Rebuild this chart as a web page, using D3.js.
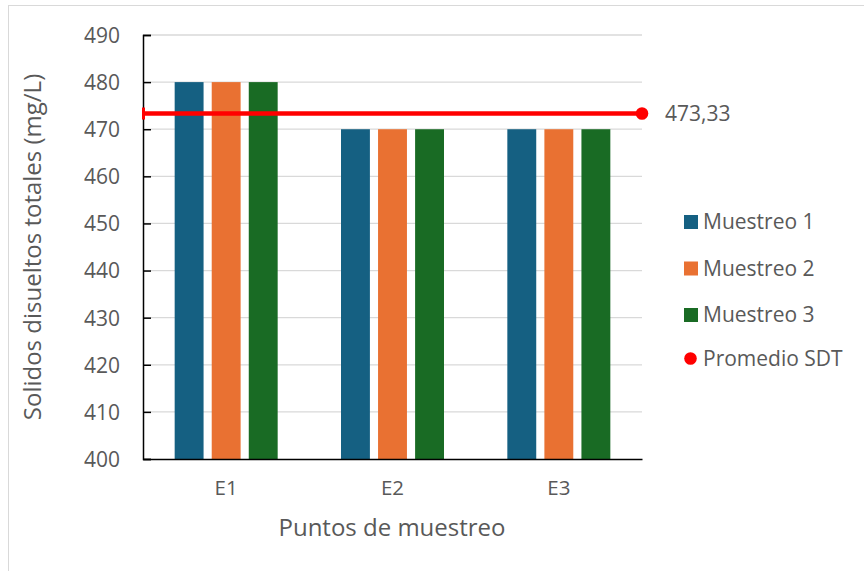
<!DOCTYPE html>
<html>
<head>
<meta charset="utf-8">
<script src="https://cdn.jsdelivr.net/npm/d3@7"></script>
<style>
  body { margin: 0; background: #fff; }
  text { font-family: "Open Sans", Inter, sans-serif; fill: #595959; }
</style>
</head>
<body>
<svg width="864" height="571"></svg>
<script>
// chart data
var puntos = ["E1", "E2", "E3"];
var series = ["Muestreo 1", "Muestreo 2", "Muestreo 3"];
var muestreo1 = [480, 470, 470];
var muestreo2 = [480, 470, 470];
var muestreo3 = [480, 470, 470];
var promedio = 473.33;
var yTicks = [400, 410, 420, 430, 440, 450, 460, 470, 480, 490];
var colores = ["#156082", "#E97132", "#196B24"];

var valores = [muestreo1, muestreo2, muestreo3];

var svg = d3.select("svg");

// outer frame
svg.append("rect")
    .attr("x", 8.5).attr("y", 5.5)
    .attr("width", 900).attr("height", 600)
    .attr("fill", "none")
    .attr("stroke", "#d9d9d9");

var xScale = d3.scaleBand().domain(puntos).range([143, 642]);
var yScale = d3.scaleLinear().domain([400, 490]).range([459, 35]);

// inner band for bars
var xSub = d3.scaleBand().domain(series)
    .range([-51.5, 51.5]).paddingInner(0.22);

// gridlines
svg.append("g")
    .selectAll("line")
    .data(yTicks.slice(1))
    .enter().append("line")
    .attr("x1", 143).attr("x2", 642)
    .attr("y1", d => yScale(d)).attr("y2", d => yScale(d))
    .attr("stroke", "#d9d9d9").attr("stroke-width", 1.3);

// bars
series.forEach(function(s, i){
    svg.append("g").selectAll("rect")
        .data(puntos)
        .enter().append("rect")
        .attr("x", (d) => xScale(d) + xScale.bandwidth()/2 + xSub(s))
        .attr("width", xSub.bandwidth())
        .attr("y", (d, j) => yScale(valores[i][j]))
        .attr("height", (d, j) => yScale(400) - yScale(valores[i][j]))
        .attr("fill", colores[i]);
});

// y axis
var yAxis = svg.append("g")
    .attr("transform", "translate(143,0)")
    .call(d3.axisRight(yScale).tickValues(yTicks).tickSize(8).tickFormat(d => d));
yAxis.select(".domain").attr("stroke", "#000").attr("stroke-width", 1.5);
yAxis.selectAll(".tick line").attr("stroke", "#000").attr("stroke-width", 1.5);
yAxis.selectAll(".tick text")
    .attr("x", -23).attr("text-anchor", "end")
    .attr("dy", "0.35em")
    .style("font-size", "21px").style("fill", "#595959");

// x axis
var xAxis = svg.append("g")
    .attr("transform", "translate(0,459)")
    .call(d3.axisBottom(xScale).tickSize(0).tickPadding(21));
xAxis.select(".domain").attr("stroke", "#000").attr("stroke-width", 1.5);
xAxis.selectAll(".tick text")
    .style("font-size", "20.5px").style("fill", "#595959")
    .attr("font-family", "'Open Sans', sans-serif");

// average line
var avgY = yScale(promedio);
svg.append("line")
    .attr("x1", 143).attr("x2", 642)
    .attr("y1", avgY).attr("y2", avgY)
    .attr("stroke", "#ff0000").attr("stroke-width", 4.5);
svg.append("rect")
    .attr("x", 142).attr("y", avgY - 6).attr("width", 3).attr("height", 12)
    .attr("fill", "#ff0000");
svg.append("circle")
    .attr("cx", 642).attr("cy", avgY).attr("r", 6.3)
    .attr("fill", "#ff0000");
svg.append("text")
    .attr("x", 665).attr("y", avgY).attr("dy", "0.35em")
    .style("font-size", "21px")
    .text(d3.format(".2f")(promedio).replace(".", ","));

// axis titles
svg.append("text")
    .attr("x", 392).attr("y", 528).attr("dy", "0.35em")
    .attr("text-anchor", "middle")
    .style("font-size", "24px")
    .text("Puntos de muestreo");

svg.append("text")
    .attr("transform", "translate(33,247) rotate(-90)")
    .attr("dy", "0.35em")
    .attr("text-anchor", "middle")
    .style("font-size", "24px")
    .text("Solidos disueltos totales (mg/L)");

// legend
var legend = svg.append("g");
series.forEach(function(s, i){
    var ly = 222 + i * 46.5;
    legend.append("rect")
        .attr("x", 684).attr("y", ly - 7).attr("width", 14).attr("height", 14)
        .attr("fill", colores[i]);
    legend.append("text")
        .attr("x", 703).attr("y", ly).attr("dy", "0.35em")
        .style("font-size", "21px")
        .text(s);
});
legend.append("circle")
    .attr("cx", 690.5).attr("cy", 222 + 3 * 45.5).attr("r", 6.3)
    .attr("fill", "#ff0000");
legend.append("text")
    .attr("x", 703).attr("y", 222 + 3 * 45.5).attr("dy", "0.35em")
    .style("font-size", "21px")
    .text("Promedio SDT");
</script>
</body>
</html>
